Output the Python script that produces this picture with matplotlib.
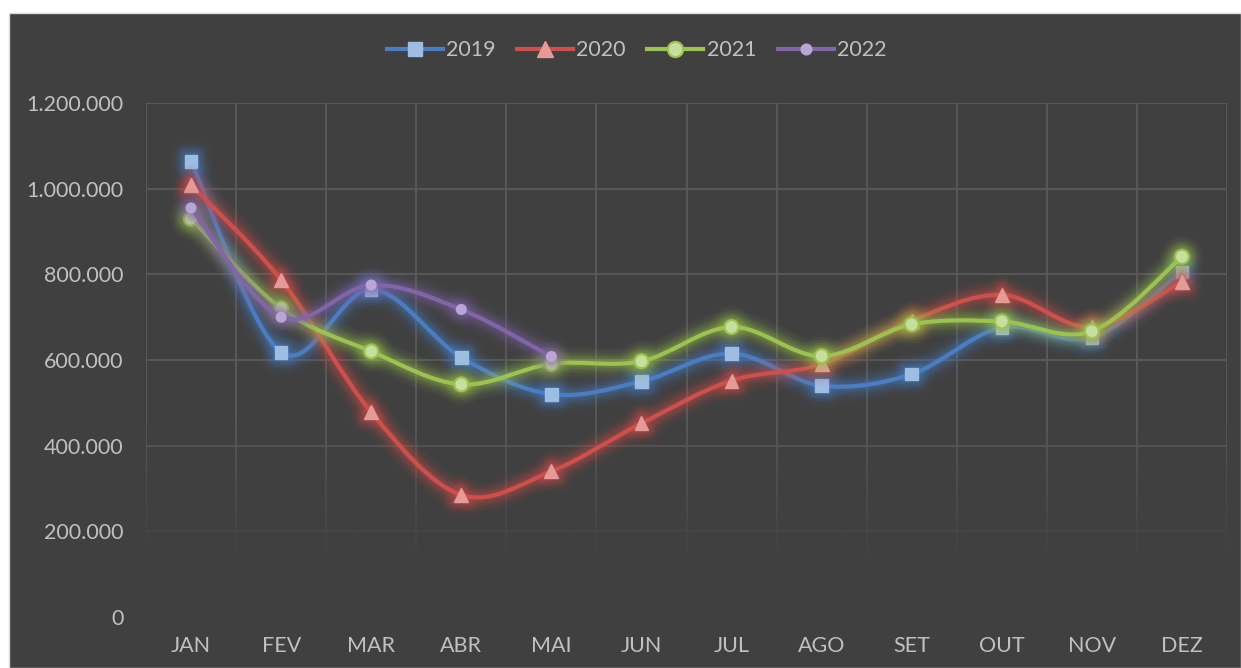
import numpy as np
import matplotlib
matplotlib.use("Agg")
import matplotlib.pyplot as plt
import matplotlib.patheffects as pe
from matplotlib.path import Path
from matplotlib.patches import PathPatch, Rectangle
from matplotlib.lines import Line2D
from matplotlib.ticker import FuncFormatter

plt.rcParams['font.family'] = ['Lato', 'DejaVu Sans']

# Data ------------------------------------------------------------------------
months = ["JAN", "FEV", "MAR", "ABR", "MAI", "JUN",
          "JUL", "AGO", "SET", "OUT", "NOV", "DEZ"]
v2019 = [1064000, 618000, 765000, 606000, 520000, 550000,
         615000, 540000, 567000, 676000, 652000, 806000]
v2020 = [1008000, 787000, 478000, 285000, 340000, 452000,
         552000, 590000, 692000, 752000, 677000, 783000]
v2021 = [930000, 720000, 620000, 543000, 591000, 597000,
         677000, 609000, 683000, 690000, 667000, 841000]
v2022 = [955000, 700000, 775000, 718000, 608000]
yticks = [0, 200000, 400000, 600000, 800000, 1000000, 1200000]

# Styles ----------------------------------------------------------------------
BG = '#404040'
GRID = '#5a5a5a'
TXT = '#c0c0c0'
FS = 15.5
series = [
    ("2019", v2019, '#4a7ec4', dict(marker='s', markersize=9,
                                    markerfacecolor='#9dbde3',
                                    markeredgecolor='#9dbde3')),
    ("2020", v2020, '#cf4f4b', dict(marker='^', markersize=10,
                                    markerfacecolor='#e69a98',
                                    markeredgecolor='#e69a98')),
    ("2021", v2021, '#9cc24f', dict(marker='o', markersize=10,
                                    markerfacecolor='#c6dea0',
                                    markeredgecolor='#9cc24f',
                                    markeredgewidth=1.5)),
    ("2022", v2022, '#8265a9', dict(marker='o', markersize=7,
                                    markerfacecolor='#b9a6d6',
                                    markeredgecolor='#b9a6d6')),
]


def smooth_path(x, y):
    # Catmull-Rom spline as cubic Bezier segments (like Excel smoothed lines)
    p = np.column_stack([x, y]).astype(float)
    ext = np.vstack([p[0], p, p[-1]])
    verts = [p[0]]
    codes = [Path.MOVETO]
    for i in range(len(p) - 1):
        p0, p1, p2, p3 = ext[i], ext[i + 1], ext[i + 2], ext[i + 3]
        c1 = p1 + (p2 - p0) / 6.0
        c2 = p2 - (p3 - p1) / 6.0
        verts += [c1, c2, p2]
        codes += [Path.CURVE4] * 3
    return Path(verts, codes)


def glow(color, lw):
    effects = []
    for extra, a in [(20, 0.04), (16, 0.06), (12, 0.08), (9, 0.1),
                     (6, 0.13), (3, 0.17)]:
        effects.append(pe.Stroke(linewidth=lw + extra, foreground=color,
                                 alpha=a, joinstyle='round',
                                 capstyle='round'))
    effects.append(pe.Normal())
    return effects


fig = plt.figure(figsize=(12.41, 6.68), dpi=100)
fig.patch.set_facecolor('white')
fig.patches.append(Rectangle((9 / 1241, 0), 1 - 9 / 1241, 1 - 13 / 668,
                             transform=fig.transFigure, facecolor=BG,
                             edgecolor='#d9d9d9', linewidth=1, zorder=-10))

ax = fig.add_axes([146 / 1241, 51 / 668, 1081 / 1241, 514 / 668])
ax.set_facecolor('none')
for s in ax.spines.values():
    s.set_visible(False)

ax.set_xlim(-0.5, 11.5)
ax.set_ylim(0, 1200000)

# grid lines
for yv in yticks[1:]:
    ax.axhline(yv, color=GRID, lw=1.3, zorder=1)
for xv in np.arange(-0.5, 12, 1):
    ax.axvline(xv, color=GRID, lw=1.3, zorder=1)

# fade grid toward the bottom
fade = np.zeros((200, 1, 4))
fade[..., :3] = matplotlib.colors.to_rgb(BG)
yy = np.linspace(0, 1200000, 200)
fade[:, 0, 3] = np.clip((460000 - yy) / 340000, 0, 1)
ax.imshow(fade, extent=(-0.5, 11.5, 0, 1200000), origin='lower',
          aspect='auto', zorder=2, interpolation='bilinear')

handles = []
for k, (name, vals, color, mk) in enumerate(series):
    x = np.arange(len(vals))
    patch = PathPatch(smooth_path(x, vals), facecolor='none', edgecolor=color,
                      lw=3, capstyle='round', joinstyle='round',
                      zorder=5 + 2 * k)
    patch.set_path_effects(glow(color, 3))
    ax.add_patch(patch)
    m, = ax.plot(x, vals, linestyle='none', zorder=6 + 2 * k, **mk)
    m.set_path_effects(glow(color, 1))
    handles.append(Line2D([], [], color=color, lw=3, label=name, **mk))

ax.set_xticks(range(12))
ax.set_xticklabels(months)
ax.set_yticks(yticks)
ax.yaxis.set_major_formatter(
    FuncFormatter(lambda v, pos: f"{v:,.0f}".replace(",", ".")))
ax.tick_params(axis='both', length=0, colors=TXT, labelsize=FS)
ax.tick_params(axis='y', pad=16)
ax.tick_params(axis='x', pad=14)

fig.legend(handles=handles, loc='center', bbox_to_anchor=(0.513, 0.925),
           ncol=4, frameon=False, fontsize=FS, labelcolor=TXT,
           handlelength=2.6, handletextpad=0.15, columnspacing=1.0,
           markerscale=1.1)

fig.savefig('out.png', dpi=100, facecolor=fig.get_facecolor())
